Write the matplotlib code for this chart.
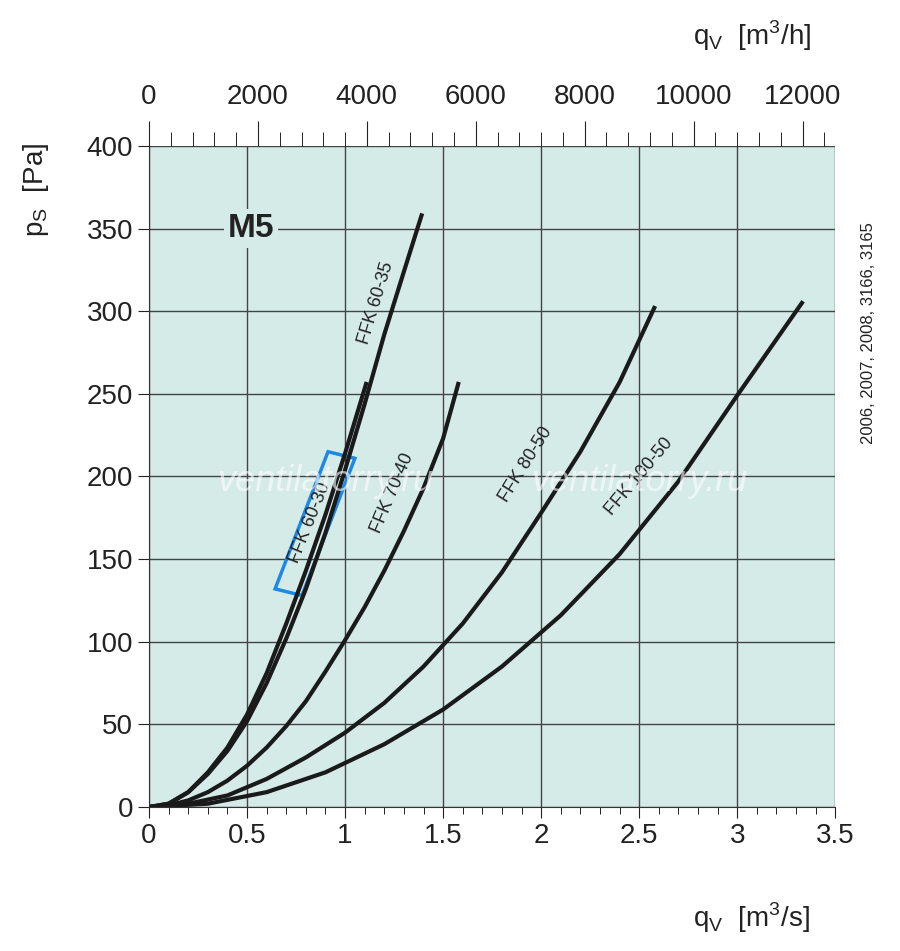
import matplotlib
matplotlib.use("Agg")
import matplotlib.pyplot as plt
import numpy as np
from matplotlib.patches import Polygon
plt.rcParams['font.family'] = ['Liberation Sans', 'DejaVu Sans']

q_6035 = [0,0.1,0.2,0.3,0.4,0.5,0.6,0.7,0.8,0.9,1.0,1.1,1.2,1.3,1.39]
p_6035 = [0,2,9,20,34,52,75,102,132,166,204,244,286,324,358]
q_6030 = [0,0.1,0.2,0.3,0.4,0.5,0.6,0.7,0.8,0.9,1.0,1.107]
p_6030 = [0,2,9,21,36,56,81,111,143,177,214,256]
q_7040 = [0,0.1,0.2,0.3,0.4,0.5,0.6,0.7,0.8,0.9,1.0,1.1,1.2,1.3,1.4,1.5,1.577]
p_7040 = [0,1,4,9,16,25,36,49,64,82,101,121,143,167,193,223,256]
q_8050 = [0,0.2,0.4,0.6,0.8,1.0,1.2,1.4,1.6,1.8,2.0,2.2,2.4,2.577]
p_8050 = [0,2,7,17,30,45,63,85,111,142,178,215,257,302]
q_10050 = [0,0.3,0.6,0.9,1.2,1.5,1.8,2.1,2.4,2.7,3.0,3.33]
p_10050 = [0,2,9,21,38,59,85,116,153,197,249,305]
curves = [(q_6035,p_6035),(q_6030,p_6030),(q_7040,p_7040),(q_8050,p_8050),(q_10050,p_10050)]
labels = [("FFK 60-35",1.16,305,73),("FFK 60-30",0.82,172,68),("FFK 70-40",1.24,190,67),
          ("FFK 80-50",1.92,207,58),("FFK 100-50",2.5,200,50)]

fig = plt.figure(figsize=(9,9.51), dpi=100)
ax = fig.add_axes([0.1656,0.1514,0.7624,0.6951])
ax.set_facecolor("#d5ebe8")
ax.set_xlim(0,3.5); ax.set_ylim(0,400)
ax.set_xticks(np.arange(0,3.51,0.5)); ax.set_xticklabels(["0","0.5","1","1.5","2","2.5","3","3.5"])
ax.set_yticks(np.arange(0,401,50))
ax.grid(True,color="#444444",lw=1)
ax.set_axisbelow(True)
for s in ["top","right"]: ax.spines[s].set_visible(False)
ax.spines["left"].set_color("#333"); ax.spines["bottom"].set_color("#333")
ax.tick_params(labelsize=20,colors="#222",length=8)
ax.set_xticks(np.arange(0,3.5,0.1),minor=True)
ax.tick_params(which="minor",length=5)

top = ax.twiny()
top.set_xlim(0,3.5*3600)
top.set_xticks(np.arange(0,12001,2000))
top.set_xticks(np.arange(0,12600,400),minor=True)
top.tick_params(labelsize=20,colors="#222",length=18,pad=8)
top.tick_params(which="minor",length=10)
for s in ["bottom","right","left","top"]: top.spines[s].set_visible(False)

for q,p in curves:
    ax.plot(q,p,color="#1a1a1a",lw=3,solid_joinstyle="round")
for t,x,y,r in labels:
    ax.text(x,y,t,rotation=r,ha="center",va="center",fontsize=13,color="#222")

ax.text(0.52,350,"M5",fontsize=24,fontweight="bold",color="#222",ha="center",va="center",
        bbox=dict(facecolor="#d5ebe8",edgecolor="none",pad=3))
ax.add_patch(Polygon([[0.643,132],[0.78,128],[1.05,211],[0.913,215]],closed=True,fill=False,
                     edgecolor="#1e88e5",lw=2.5))
for x in [0.9,2.5]:
    ax.text(x,197,"ventilatorry.ru",fontsize=26,style="italic",color="white",alpha=0.6,
            ha="center",va="center")

fig.text(0.77,0.962,r"q$_\mathregular{V}$  [m$^\mathregular{3}$/h]",fontsize=20,ha="left",va="center",color="#222")
fig.text(0.77,0.035,r"q$_\mathregular{V}$  [m$^\mathregular{3}$/s]",fontsize=20,ha="left",va="center",color="#222")
fig.text(0.04,0.80,r"p$_\mathregular{S}$  [Pa]",fontsize=20,rotation=90,ha="center",va="center",color="#222")
fig.text(0.965,0.65,"2006, 2007, 2008, 3166, 3165",fontsize=12,rotation=90,ha="center",va="center",color="#222")
fig.savefig("out.png",dpi=100,facecolor="white")
